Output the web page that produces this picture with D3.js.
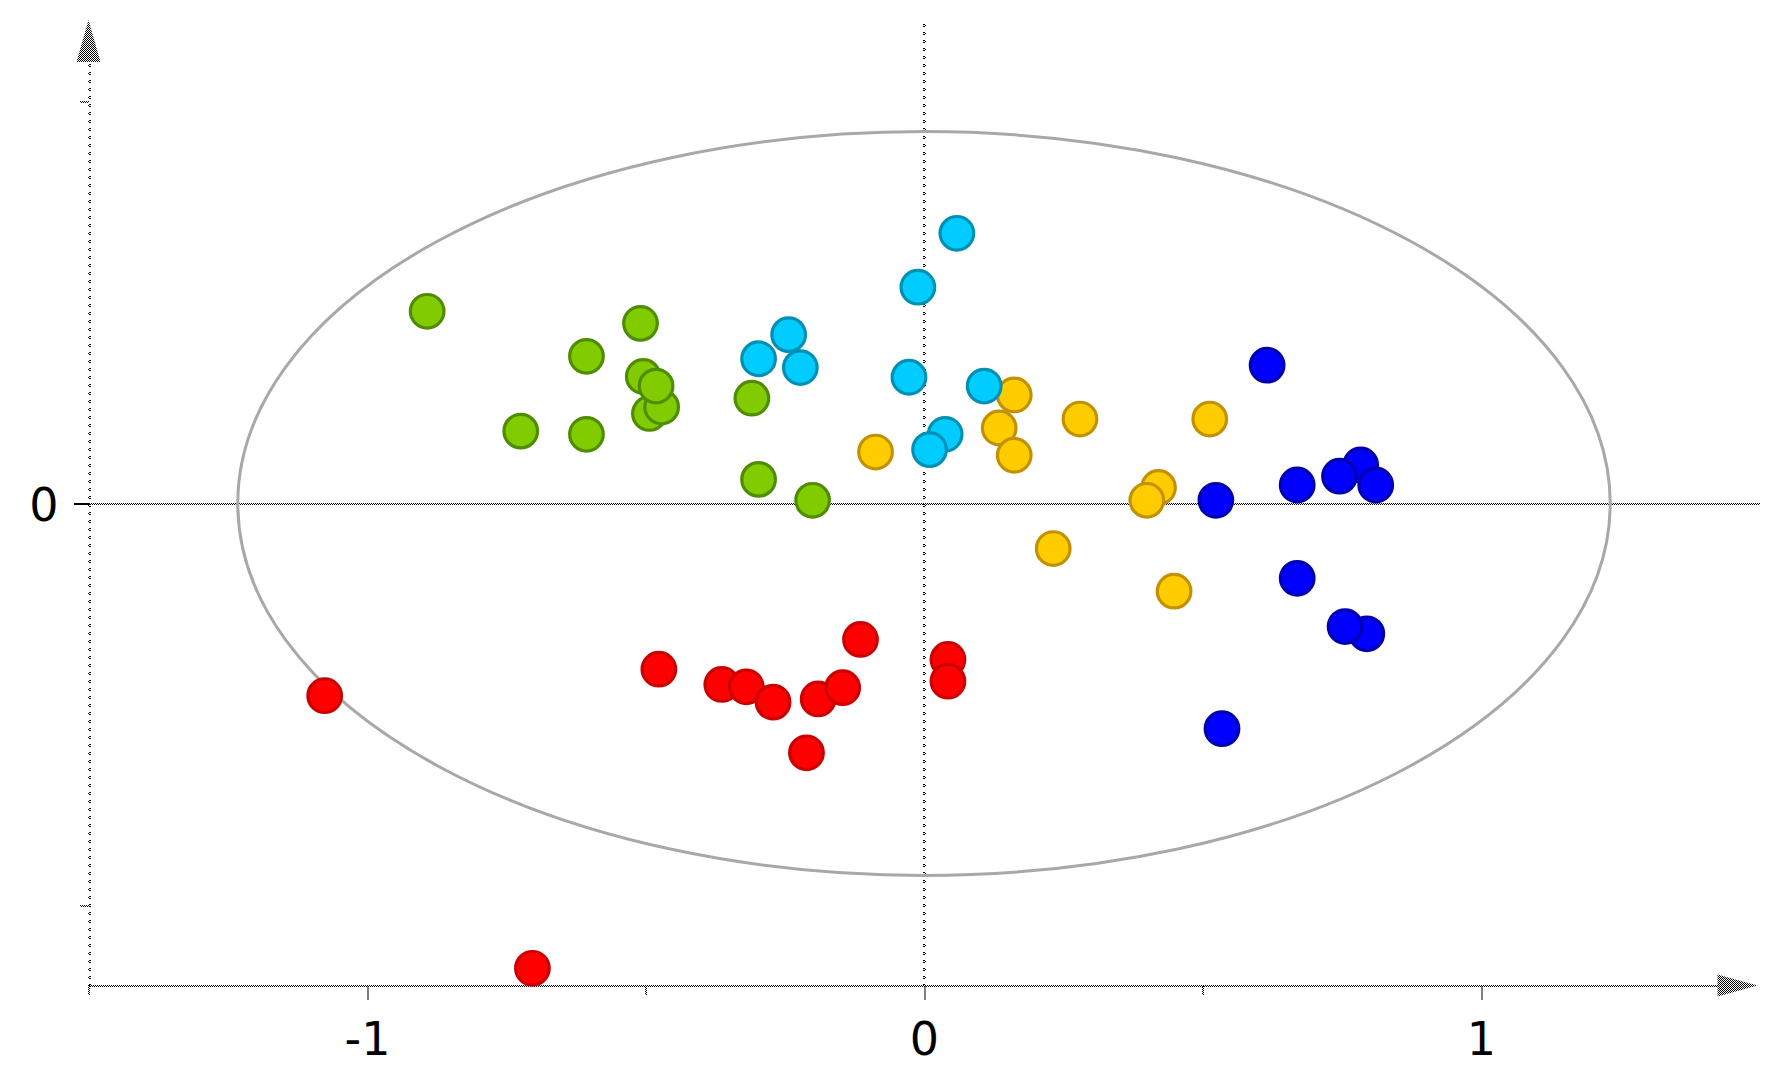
<!DOCTYPE html>
<html>
<head>
<meta charset="utf-8">
<title>scores</title>
<script src="https://cdn.jsdelivr.net/npm/d3@7"></script>
<style>
  html, body { margin: 0; padding: 0; background: #fff; }
  svg { display: block; }
  text { font-family: "DejaVu Sans", sans-serif; }
</style>
</head>
<body>
<div id="chart"></div>
<script>
// score values [t1, t2] per class
var green = [[-0.892, 0.239], [-0.509, 0.224], [-0.606, 0.183], [-0.504, 0.158], [-0.493, 0.112],
             [-0.471, 0.120], [-0.481, 0.146], [-0.724, 0.090], [-0.606, 0.086], [-0.309, 0.131],
             [-0.297, 0.030], [-0.200, 0.004]];
var yellow = [[-0.087, 0.064], [0.162, 0.135], [0.135, 0.094], [0.162, 0.060], [0.280, 0.105],
              [0.513, 0.105], [0.421, 0.020], [0.400, 0.004], [0.449, -0.109], [0.232, -0.056]];
var cyan = [[-0.243, 0.210], [-0.297, 0.180], [-0.222, 0.169], [0.059, 0.336], [-0.011, 0.269],
            [-0.027, 0.157], [0.108, 0.146], [0.038, 0.086], [0.010, 0.067]];
var blue = [[0.616, 0.172], [0.524, 0.004], [0.670, 0.023], [0.784, 0.048], [0.746, 0.034],
            [0.811, 0.023], [0.670, -0.093], [0.795, -0.162], [0.756, -0.153], [0.535, -0.280]];
var red = [[-1.076, -0.239], [-0.476, -0.206], [-0.363, -0.225], [-0.319, -0.228], [-0.271, -0.247],
           [-0.190, -0.243], [-0.146, -0.229], [-0.114, -0.169], [-0.211, -0.310], [0.043, -0.194],
           [0.043, -0.221], [-0.703, -0.578]];

var xLabelTicks = [-1, 0, 1];
var xMinorTicks = [-1.5, -0.5, 0.5];
var yLabelTicks = [0];
var yMinorTicks = [-0.5, 0.5];
var ellipseRadii = [1.232, 0.4625];   // Hotelling T2 limits

var groups = [
  {pts: green,  fill: "#80cc00", stroke: "#4f8c00"},
  {pts: yellow, fill: "#ffcc00", stroke: "#c39100"},
  {pts: cyan,   fill: "#00ccff", stroke: "#0090b4"},
  {pts: blue,   fill: "#0000ff", stroke: "#0000b0"},
  {pts: red,    fill: "#ff0000", stroke: "#cc0000"}
];

var W = 1786, H = 1088;
var x = d3.scaleLinear().domain([-1.5, 1.5]).range([88.5, 1759.5]);
var y = d3.scaleLinear().domain([-0.6, 0.6]).range([986, 21]);

var svg = d3.select("#chart").append("svg")
    .attr("width", W).attr("height", H);
svg.append("rect").attr("width", W).attr("height", H).attr("fill", "#fff");

var defs = svg.append("defs");
// 2x2 checker, like the dithered lines of the original
var chk = defs.append("pattern").attr("id", "checker")
    .attr("patternUnits", "userSpaceOnUse").attr("width", 2).attr("height", 2);
chk.append("rect").attr("x", 0).attr("y", 0).attr("width", 1).attr("height", 1).attr("fill", "#000");
chk.append("rect").attr("x", 1).attr("y", 1).attr("width", 1).attr("height", 1).attr("fill", "#000");
// little x marks every 8px for the vertical lines
var vm = defs.append("pattern").attr("id", "vmarks")
    .attr("patternUnits", "userSpaceOnUse").attr("width", 3).attr("height", 8);
[[0, 0], [2, 0], [1, 1], [0, 2], [2, 2]].forEach(function(p) {
  vm.append("rect").attr("x", p[0]).attr("y", p[1]).attr("width", 1).attr("height", 1).attr("fill", "#000");
});

var x0 = Math.round(x(0)), y0 = Math.round(y(0));
var left = Math.round(x(-1.5)), bottom = Math.round(y(-0.6));

// zero lines
svg.append("rect").attr("x", left - 15).attr("y", y0 - 1).attr("width", Math.round(x(1.5)) - left + 15)
    .attr("height", 2).attr("fill", "url(#checker)");
svg.append("rect").attr("x", x0 - 1).attr("y", Math.round(y(0.6)) + 2).attr("width", 3)
    .attr("height", bottom - Math.round(y(0.6)) - 2).attr("fill", "url(#vmarks)");

// axis lines
svg.append("rect").attr("x", left - 1).attr("y", Math.round(y(0.6)) + 40).attr("width", 3)
    .attr("height", bottom - Math.round(y(0.6)) - 40).attr("fill", "url(#vmarks)");
svg.append("rect").attr("x", left).attr("y", bottom - 1).attr("width", Math.round(x(1.5)) - left - 40)
    .attr("height", 2).attr("fill", "url(#checker)");

// arrow heads
svg.append("path")
    .attr("d", "M" + x(-1.5) + "," + (y(0.6) - 1) + "L" + (x(-1.5) - 12) + "," + (y(0.6) + 41) +
               "L" + (x(-1.5) + 12) + "," + (y(0.6) + 41) + "Z")
    .attr("fill", "url(#checker)");
svg.append("path")
    .attr("d", "M" + (x(1.5) - 2) + "," + (bottom - 0.5) + "L" + (x(1.5) - 42) + "," + (bottom - 11.5) +
               "L" + (x(1.5) - 42) + "," + (bottom + 10.5) + "Z")
    .attr("fill", "url(#checker)");

// ticks + labels
function styleAxis(g) {
  g.select(".domain").remove();
  g.selectAll(".tick line").attr("stroke", "url(#checker)").attr("stroke-width", 2)
    .attr("shape-rendering", "crispEdges");
}
svg.append("g").attr("transform", "translate(0," + bottom + ")")
    .call(d3.axisBottom(x).tickValues(xMinorTicks).tickSize(9).tickFormat(""))
    .call(styleAxis);
svg.append("g").attr("transform", "translate(0," + bottom + ")")
    .call(d3.axisBottom(x).tickValues(xLabelTicks).tickSize(14).tickFormat(d3.format("d")))
    .call(styleAxis)
    .call(function(g) {
      g.selectAll(".tick text").attr("y", 69).attr("dy", 0)
        .attr("font-size", 46).attr("font-family", "DejaVu Sans").attr("fill", "#000")
        .text(function(d) { return d < 0 ? "-" + Math.abs(d) : d; });
    });
svg.append("g").attr("transform", "translate(" + left + ",0)")
    .call(d3.axisLeft(y).tickValues(yMinorTicks).tickSize(9).tickFormat(""))
    .call(styleAxis);
svg.append("g").attr("transform", "translate(" + left + ",0)")
    .call(d3.axisLeft(y).tickValues(yLabelTicks).tickSize(15).tickFormat(d3.format("d")))
    .call(styleAxis)
    .call(function(g) {
      g.selectAll(".tick text").attr("x", -45).attr("dy", "0.37em").attr("text-anchor", "middle")
        .attr("font-size", 46).attr("font-family", "DejaVu Sans").attr("fill", "#000");
    });

// confidence ellipse
svg.append("ellipse")
    .attr("cx", x(0)).attr("cy", y(0))
    .attr("rx", x(ellipseRadii[0]) - x(0))
    .attr("ry", y(0) - y(ellipseRadii[1]))
    .attr("fill", "none").attr("stroke", "#a8a8a8").attr("stroke-width", 3);

// points
groups.forEach(function(grp) {
  svg.append("g").selectAll("circle").data(grp.pts).enter().append("circle")
    .attr("cx", function(d) { return x(d[0]); })
    .attr("cy", function(d) { return y(d[1]); })
    .attr("r", 16.8)
    .attr("fill", grp.fill)
    .attr("stroke", grp.stroke)
    .attr("stroke-width", 3.2);
});
</script>
</body>
</html>
